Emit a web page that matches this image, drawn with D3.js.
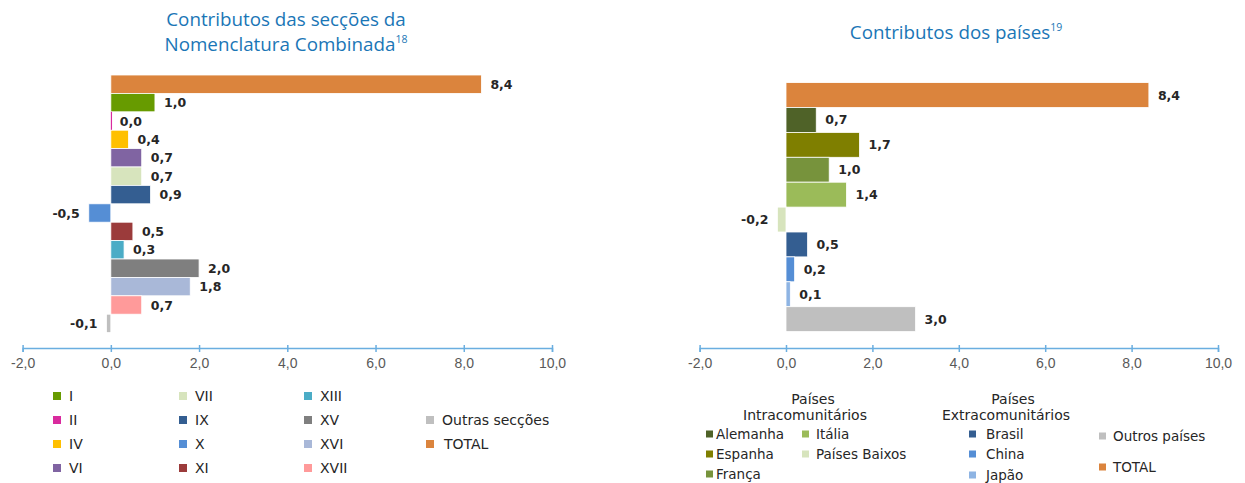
<!DOCTYPE html>
<html><head><meta charset="utf-8">
<script src="https://cdn.jsdelivr.net/npm/d3@7"></script>
<style>body{margin:0;background:#fff}svg{display:block}</style>
</head><body>
<svg id="c" width="1245" height="483"></svg>
<script>
// Left chart: sections
const secCategories = ["TOTAL","I","II","IV","VI","VII","IX","X","XI","XIII","XV","XVI","XVII","Outras secções"];
const secValues     = [8.4, 1.0, 0.0, 0.4, 0.7, 0.7, 0.9, -0.5, 0.5, 0.3, 2.0, 1.8, 0.7, -0.1];
const secColors     = ["#db843d","#679b00","#d92a9e","#ffc000","#8064a2","#d7e4bd","#345e91","#558ed5","#9b3b3b","#4bacc6","#7f7f7f","#a9b8d8","#ff9a9a","#bfbfbf"];
// Right chart: countries
const ctyCategories = ["TOTAL","Alemanha","Espanha","França","Itália","Países Baixos","Brasil","China","Japão","Outros países"];
const ctyValues     = [8.4, 0.7, 1.7, 1.0, 1.4, -0.2, 0.5, 0.2, 0.1, 3.0];
const ctyColors     = ["#db843d","#4f6228","#7f7f00","#77933c","#9bbb59","#d7e4bd","#345e91","#558ed5","#8eb4e3","#bfbfbf"];
const tickValues = [-2, 0, 2, 4, 6, 8, 10];

const svg = d3.select("#c");
const fmt = v => v.toFixed(1).replace(".", ",");
const titleColor = "#1a76b6";

function drawChart(cats, vals, cols, xr, yr) {
  const g = svg.append("g");
  const x = d3.scaleLinear().domain([-2, 10]).range(xr);
  const y = d3.scaleBand().domain(cats).range(yr).paddingInner(0);
  const data = cats.map((c, i) => ({c, v: vals[i], col: cols[i]}));
  g.selectAll("rect.bar").data(data).join("rect")
    .attr("class","bar")
    .attr("x", d => Math.min(x(0), x(d.v)))
    .attr("width", d => Math.max(1.2, Math.abs(x(d.v) - x(0))))
    .attr("y", d => y(d.c))
    .attr("height", y.bandwidth())
    .attr("fill", d => d.col)
    .attr("stroke", d => d.v === 0 ? "none" : "#fff")
    .attr("stroke-width", 0.8);
  g.selectAll("text.val").data(data).join("text")
    .attr("class","val")
    .attr("x", d => d.v < 0 ? x(d.v) - 9 : x(d.v) + 9)
    .attr("y", d => y(d.c) + y.bandwidth()/2)
    .attr("dy", "0.36em")
    .attr("text-anchor", d => d.v < 0 ? "end" : "start")
    .attr("font-family", "DejaVu Sans, sans-serif")
    .attr("font-weight", "bold")
    .attr("font-size", 12.5)
    .attr("fill", "#262626")
    .text(d => fmt(d.v));
  const axisY = 348;
  const ax = g.append("g").attr("transform", `translate(0,${axisY})`)
    .call(d3.axisBottom(x).tickValues(tickValues).tickFormat(fmt).tickSize(4).tickSizeOuter(4).tickPadding(6));
  ax.select(".domain").attr("stroke", "#6aaee0").attr("stroke-width", 1.5);
  ax.selectAll(".tick line").attr("stroke", "#6aaee0").attr("stroke-width", 1.5).attr("y1", -3);
  ax.selectAll(".tick text").attr("font-family", "Liberation Sans, Arial, sans-serif")
    .attr("font-size", 14).attr("fill", "#595959");
  return {x, y};
}

drawChart(secCategories, secValues, secColors, [22.6, 552], [75, 332.6]);
drawChart(ctyCategories, ctyValues, ctyColors, [699.6, 1218], [82.6, 331.6]);

// Titles
function title(lines, cx, y0, sup) {
  const t = svg.append("text").attr("text-anchor","middle")
    .attr("font-family","Open Sans, sans-serif").attr("font-size",18.8).attr("fill",titleColor);
  lines.forEach((l, i) => {
    t.append("tspan").attr("x", cx).attr("y", y0 + i*25).text(l);
    if (i === lines.length - 1) {
      t.append("tspan").attr("font-size", 10.5).attr("dy", -8).text(sup);
    }
  });
}
title(["Contributos das secções da","Nomenclatura Combinada"], 286, 26, "18");
title(["Contributos dos países"], 956, 39, "19");

// Left legend
const legFont = "DejaVu Sans, sans-serif";
const leftLegend = [
  {k:"I", col:0, row:0},{k:"II", col:0, row:1},{k:"IV", col:0, row:2},{k:"VI", col:0, row:3},
  {k:"VII", col:1, row:0},{k:"IX", col:1, row:1},{k:"X", col:1, row:2},{k:"XI", col:1, row:3},
  {k:"XIII", col:2, row:0},{k:"XV", col:2, row:1},{k:"XVI", col:2, row:2},{k:"XVII", col:2, row:3},
  {k:"Outras secções", col:3, row:1},{k:"TOTAL", col:3, row:2}
];
const lColX = [53, 179, 304, 426];
const lRowY = [396, 420, 444, 468];
const lg = svg.append("g");
leftLegend.forEach(d => {
  const i = secCategories.indexOf(d.k);
  const x0 = lColX[d.col], y0 = lRowY[d.row];
  lg.append("rect").attr("x", x0).attr("y", y0 - 4).attr("width", 8).attr("height", 8).attr("fill", secColors[i]);
  lg.append("text").attr("x", x0 + (d.k === "TOTAL" ? 18 : 16)).attr("y", y0).attr("dy","0.36em")
    .attr("font-family", legFont).attr("font-size", 14).attr("fill", "#262626").text(d.k);
});

// Right legend
const rg = svg.append("g");
[["Países",813,399],["Intracomunitários",805,415],["Países",1013,399],["Extracomunitários",1006,415]].forEach(h => {
  rg.append("text").attr("x", h[1]).attr("y", h[2]).attr("dy","0.36em").attr("text-anchor","middle")
    .attr("font-family", legFont).attr("font-size", 14).attr("fill","#262626").text(h[0]);
});
const rightLegend = [
  {k:"Alemanha", x:706, y:434, off:10},{k:"Espanha", x:706, y:454, off:10},{k:"França", x:706, y:474, off:10},
  {k:"Itália", x:802, y:434, off:14},{k:"Países Baixos", x:802, y:454, off:14},
  {k:"Brasil", x:969, y:434, off:17},{k:"China", x:969, y:454, off:17},{k:"Japão", x:969, y:475, off:17},
  {k:"Outros países", x:1099, y:436, off:14},{k:"TOTAL", x:1099, y:467, off:14}
];
rightLegend.forEach(d => {
  const i = ctyCategories.indexOf(d.k);
  rg.append("rect").attr("x", d.x).attr("y", d.y - 3.5).attr("width", 7).attr("height", 7).attr("fill", ctyColors[i]);
  rg.append("text").attr("x", d.x + d.off).attr("y", d.y).attr("dy","0.36em")
    .attr("font-family", legFont).attr("font-size", 13.5).attr("fill","#262626").text(d.k);
});
</script>
</body></html>
